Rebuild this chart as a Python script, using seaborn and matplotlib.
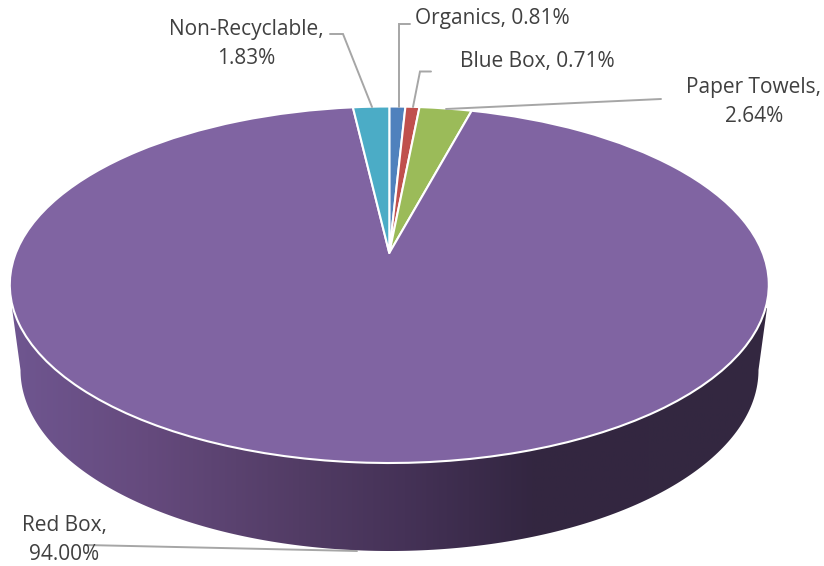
import numpy as np
import matplotlib
matplotlib.use("Agg")
import matplotlib.pyplot as plt
from matplotlib.colors import LinearSegmentedColormap
from matplotlib.patches import Polygon
from matplotlib.transforms import Transform
import seaborn as sns

categories = ["Organics", "Blue Box", "Paper Towels", "Red Box", "Non-Recyclable"]
values = [0.81, 0.71, 2.64, 94.00, 1.83]
colors = ["#4F81BD", "#C0504D", "#9BBB59", "#8064A2", "#4BACC6"]
wall_stops = [(0.0, "#6F5690"), (0.18, "#654A7D"), (0.38, "#523C65"), (0.52, "#453257"),
              (0.69, "#332641"), (1.0, "#332840")]

sns.set_theme(style="white")
plt.rcParams["font.family"] = ["Open Sans", "DejaVu Sans"]

W, H = 824, 566
APEX_X, APEX_Y = 389.3, 253.0
TOP_Y, BOTTOM_Y = 106.5, 463.0
HALF_W = 379.5

up, down = APEX_Y - TOP_Y, BOTTOM_Y - APEX_Y
K = (down / up - 1) / (down / up + 1)
B = up * (1 + K)
A = HALF_W * np.sqrt(1 - K ** 2)


class Tilt(Transform):
    """Perspective view of the unit-circle pie, into pixel-like data coordinates."""
    input_dims = 2
    output_dims = 2
    is_separable = False
    has_inverse = False

    def transform_non_affine(self, values):
        p = np.asarray(values, dtype=float)
        w = 1 + K * p[:, 1]
        return np.column_stack((APEX_X + A * p[:, 0] / w, APEX_Y - B * p[:, 1] / w))


fig = plt.figure(figsize=(W / 100, H / 100), dpi=100, facecolor="white")
ax = fig.add_axes([0, 0, 1, 1])

# side wall: lower rim plus its tangents up to the top rim
RIM_CX, RIM_CY, RIM_A, RIM_B = 389.5, 370.0, 369.0, 181.0
t = np.linspace(np.pi, 2 * np.pi, 200)
rim = np.column_stack((RIM_CX + RIM_A * np.cos(t), RIM_CY - RIM_B * np.sin(t)))
outline = np.vstack(([[12, 308]], rim, [[767, 308]]))
grad = np.linspace(0, 1, 400).reshape(1, -1)
cmap = LinearSegmentedColormap.from_list("wall", wall_stops)
img = ax.imshow(grad, cmap=cmap, extent=(11, 768, 560, 240), aspect="auto", zorder=1)
clip = Polygon(outline, closed=True, transform=ax.transData, fc="none", ec="none")
ax.add_patch(clip)
img.set_clip_path(clip)

# top face
wedges, _ = ax.pie(values, colors=colors, startangle=90, counterclock=False,
                   wedgeprops=dict(edgecolor="white", linewidth=1.5, joinstyle="round"))
tilt = Tilt()
for w in wedges:
    w.set_transform(tilt + ax.transData)
    w.set_zorder(2)

ax.set_aspect("auto")
ax.set_xlim(0, W)
ax.set_ylim(H, 0)
ax.axis("off")

# leader lines
leader = dict(color="#A6A6A6", lw=1.4, zorder=3, solid_joinstyle="miter")
ax.plot([330, 343, 372], [34, 34, 107], **leader)
ax.plot([410, 399, 399], [24, 24, 107], **leader)
ax.plot([431, 420, 413], [71.5, 71.5, 107], **leader)
ax.plot([661, 446], [99, 109], **leader)
ax.plot([85, 357], [545, 551], **leader)

# labels
txt = dict(color="#404040", fontsize=15, va="center", ha="center", zorder=4)
pct = {c: f"{v:.2f}%" for c, v in zip(categories, values)}
ax.text(246.5, 29.5, "Non-Recyclable,", **txt)
ax.text(246.5, 58.5, pct["Non-Recyclable"], **txt)
ax.text(492.5, 18.5, f"Organics, {pct['Organics']}", **txt)
ax.text(537, 61, f"Blue Box, {pct['Blue Box']}", **txt)
ax.text(754, 88, "Paper Towels,", **txt)
ax.text(754, 117, pct["Paper Towels"], **txt)
ax.text(64.5, 525, "Red Box,", **txt)
ax.text(64.5, 554, pct["Red Box"], **txt)

fig.savefig("out.png", dpi=100)
